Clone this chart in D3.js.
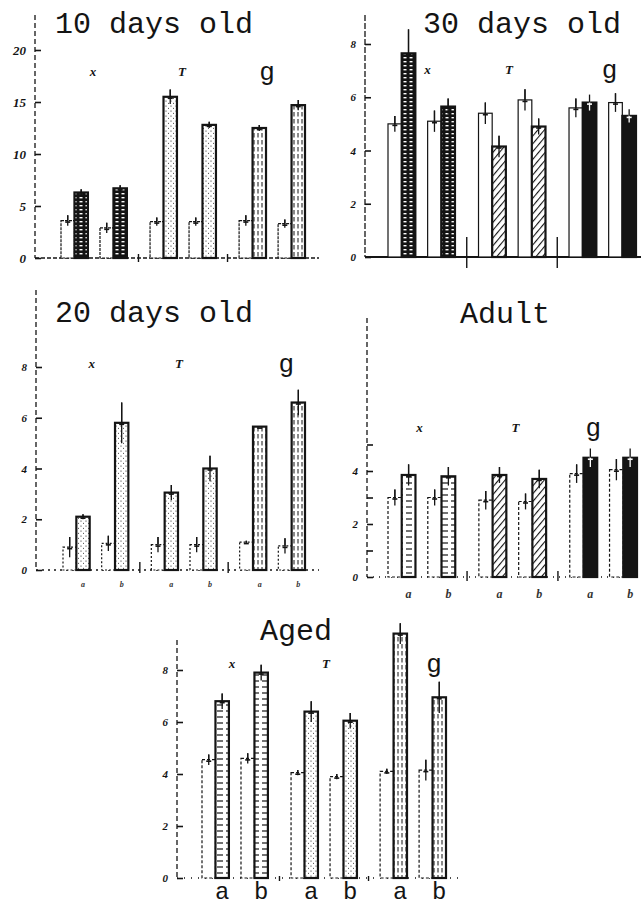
<!DOCTYPE html>
<html><head><meta charset="utf-8">
<script src="https://cdn.jsdelivr.net/npm/d3@7"></script>
<style>body{margin:0;background:#fff}svg{display:block}</style>
</head><body><svg id="c" width="641" height="911"></svg>
<script>
// ---------- data ----------
const groups = ['x', 'T', 'g'];
const subs = ['a', 'b'];
const titles = ['10 days old', '30 days old', '20 days old', 'Adult', 'Aged'];

const ctrl10 = [3.6, 2.9, 3.5, 3.5, 3.6, 3.3];
const trt10 = [6.3, 6.7, 15.5, 12.8, 12.5, 14.7];
const ctrlErr10 = [0.5, 0.5, 0.4, 0.4, 0.5, 0.4];
const trtErr10 = [0.3, 0.3, 0.7, 0.3, 0.3, 0.5];
const ticks10 = [0, 5, 10, 15, 20];

const ctrl30 = [5.0, 5.1, 5.4, 5.9, 5.6, 5.8];
const trt30 = [7.65, 5.65, 4.15, 4.9, 5.8, 5.3];
const ctrlErr30 = [0.3, 0.4, 0.4, 0.4, 0.35, 0.35];
const trtErr30 = [0.9, 0.3, 0.4, 0.3, 0.3, 0.25];
const ticks30 = [0, 2, 4, 6, 8];

const ctrl20 = [0.9, 1.05, 1.0, 1.0, 1.1, 0.95];
const trt20 = [2.1, 5.8, 3.05, 4.0, 5.65, 6.6];
const ctrlErr20 = [0.4, 0.3, 0.3, 0.3, 0.05, 0.3];
const trtErr20 = [0.1, 0.8, 0.3, 0.5, 0.0, 0.5];
const ticks20 = [0, 2, 4, 6, 8];

const ctrlAdult = [3.0, 3.0, 2.9, 2.85, 3.9, 4.05];
const trtAdult = [3.85, 3.8, 3.85, 3.7, 4.5, 4.5];
const ctrlErrAdult = [0.3, 0.3, 0.35, 0.3, 0.35, 0.4];
const trtErrAdult = [0.4, 0.35, 0.3, 0.35, 0.35, 0.35];
const ticksAdult = [0, 1, 2, 3, 4, 5];

const ctrlAged = [4.55, 4.6, 4.05, 3.9, 4.1, 4.15];
const trtAged = [6.8, 7.9, 6.4, 6.05, 9.4, 6.95];
const ctrlErrAged = [0.2, 0.2, 0.1, 0.1, 0.1, 0.4];
const trtErrAged = [0.3, 0.3, 0.4, 0.3, 0.4, 0.6];
const ticksAged = [0, 2, 4, 6, 8];

// ---------- drawing ----------
const svg = d3.select('#c');
const INK = '#141414';
const MONO = '"Liberation Mono", "DejaVu Sans Mono", monospace';
const SERIF = '"Liberation Serif", "DejaVu Serif", serif';

const defs = svg.append('defs');
function pat(id, w, h, build, rot) {
  const p = defs.append('pattern').attr('id', id).attr('patternUnits', 'userSpaceOnUse')
    .attr('width', w).attr('height', h);
  if (rot) p.attr('patternTransform', `rotate(${rot})`);
  build(p);
}
pat('ladder', 6, 4, p => {
  p.append('rect').attr('width', 6).attr('height', 4).attr('fill', INK);
  p.append('rect').attr('x', 1.5).attr('y', 1).attr('width', 3).attr('height', 1.4).attr('fill', '#fff');
});
pat('dots', 5, 5, p => {
  p.append('rect').attr('width', 5).attr('height', 5).attr('fill', '#fff');
  p.append('circle').attr('cx', 1).attr('cy', 1).attr('r', 0.6).attr('fill', INK);
  p.append('circle').attr('cx', 3.5).attr('cy', 3.3).attr('r', 0.5).attr('fill', INK);
});
pat('vlines', 4, 7, p => {
  p.append('rect').attr('width', 4).attr('height', 7).attr('fill', '#fff');
  p.append('line').attr('x1', 2).attr('x2', 2).attr('y1', 0).attr('y2', 4.5).attr('stroke', INK).attr('stroke-width', 1);
});
pat('diag', 5, 5, p => {
  p.append('rect').attr('width', 5).attr('height', 5).attr('fill', '#fff');
  p.append('line').attr('x1', 0).attr('x2', 0).attr('y1', 0).attr('y2', 5).attr('stroke', INK).attr('stroke-width', 2.2);
}, 40);
pat('hlines', 9, 6, p => {
  p.append('rect').attr('width', 9).attr('height', 6).attr('fill', '#fff');
  p.append('line').attr('x1', 1).attr('x2', 7).attr('y1', 3).attr('y2', 3).attr('stroke', INK).attr('stroke-width', 1.2);
});

const panels = [
  { title: titles[0], ctrl: ctrl10, trt: trt10, ce: ctrlErr10, te: trtErr10, ticks: ticks10, max: 20,
    xr: [61, 305], yr: [258, 50], ax: 35, axTop: 15, tx: 55, ty: 33, gy: 80, gdx: [-1, -1, -5],
    fills: ['ladder', 'dots', 'vlines'], ctrlDash: '3,1', baseDash: '4,2', sepLen: [4, 4], labelY: null },
  { title: titles[1], ctrl: ctrl30, trt: trt30, ce: ctrlErr30, te: trtErr30, ticks: ticks30, max: 8,
    xr: [388, 636], yr: [257, 44], ax: 365, axTop: 15, tx: 423, ty: 33, gy: 78, gdx: [6, -3, 7],
    fills: ['ladder', 'diag', 'solid'], ctrlDash: null, baseDash: null, sepLen: [20, 11], labelY: null },
  { title: titles[2], ctrl: ctrl20, trt: trt20, ce: ctrlErr20, te: trtErr20, ticks: ticks20, max: 8,
    xr: [63, 305], yr: [570, 367], ax: 36, axTop: 290, tx: 55, ty: 322, gy: 372, gdx: [-4, -5, 14],
    fills: ['dots', 'dots', 'vlines'], ctrlDash: '2,2', baseDash: '2,4', sepLen: [8, 3], labelY: 587, labelSize: 8 },
  { title: titles[3], ctrl: ctrlAdult, trt: trtAdult, ce: ctrlErrAdult, te: trtErrAdult, ticks: ticksAdult, max: 10,
    xr: [388, 637], yr: [577, 312], ax: 367, axTop: 318, tx: 460, ty: 323, gy: 436, gdx: [-2, 3, -10],
    fills: ['hlines', 'diag', 'solid'], ctrlDash: '3,2', baseDash: '1,5', sepLen: [6, 4], labelY: 598, labelSize: 12,
    tickLabels: d => (d % 2 === 0 ? d : '') },
  { title: titles[4], ctrl: ctrlAged, trt: trtAged, ce: ctrlErrAged, te: trtErrAged, ticks: ticksAged, max: 8,
    xr: [202, 446], yr: [878, 670], ax: 177, axTop: 640, tx: 260, ty: 640, gy: 672, gdx: [-3, 2, 21],
    fills: ['hlines', 'dots', 'vlines'], ctrlDash: '3,2', baseDash: '1,6', sepLen: [2, 3], labelY: 899, labelSize: 24, labelMono: true }
];

panels.forEach((P, pi) => {
  const g = svg.append('g');
  const y = d3.scaleLinear().domain([0, P.max]).range(P.yr);
  const xG = d3.scaleBand().domain(groups).range(P.xr).paddingInner(0.26).paddingOuter(0);
  const xS = d3.scaleBand().domain(subs).range([0, xG.bandwidth()]).paddingInner(0.31).paddingOuter(0);
  const xB = d3.scaleBand().domain(['c', 't']).range([0, xS.bandwidth()]).padding(0);
  const base = y(0);

  // title
  g.append('text').attr('x', P.tx).attr('y', P.ty).text(P.title)
    .attr('font-family', MONO).attr('font-size', 30).attr('fill', INK);

  // axis line
  g.append('line').attr('x1', P.ax).attr('x2', P.ax).attr('y1', P.axTop).attr('y2', base)
    .attr('stroke', INK).attr('stroke-width', 1.3).attr('stroke-dasharray', pi === 1 ? '6,2' : '5,3');
  // baseline
  g.append('line').attr('x1', P.ax).attr('x2', P.xr[1] + 14).attr('y1', base).attr('y2', base)
    .attr('stroke', INK).attr('stroke-width', pi === 1 ? 2 : 1.3)
    .attr('stroke-dasharray', P.baseDash);

  // ticks
  const axis = d3.axisLeft(y).tickValues(P.ticks).tickSize(-6).tickPadding(9)
    .tickFormat(P.tickLabels || (d => d));
  const ag = g.append('g').attr('transform', `translate(${P.ax},0)`).call(axis);
  ag.select('.domain').remove();
  ag.selectAll('.tick line').attr('stroke', INK).attr('stroke-width', 1.6);
  ag.selectAll('.tick text').attr('font-family', SERIF).attr('font-style', 'italic')
    .attr('font-weight', 'bold').attr('font-size', pi === 0 ? 13 : 11).attr('fill', INK);

  // group separators
  for (let i = 0; i < groups.length - 1; i++) {
    const xm = (xG(groups[i]) + xG.bandwidth() + xG(groups[i + 1])) / 2;
    g.append('line').attr('x1', xm).attr('x2', xm).attr('y1', base - P.sepLen[0]).attr('y2', base + P.sepLen[1])
      .attr('stroke', INK).attr('stroke-width', 1.4);
  }

  // bars
  const rows = [];
  groups.forEach((gr, gi) => subs.forEach((s, si) => {
    const k = gi * 2 + si;
    rows.push({ gr, s, k, c: P.ctrl[k], t: P.trt[k], ce: P.ce[k], te: P.te[k] });
  }));
  const bx = (d, w) => xG(d.gr) + xS(d.s) + xB(w);
  const bw = xB.bandwidth();

  // control (open) bars
  g.selectAll('.cbar').data(rows).join('rect').attr('class', 'cbar')
    .attr('x', d => bx(d, 'c')).attr('y', d => y(d.c)).attr('width', bw).attr('height', d => base - y(d.c))
    .attr('fill', '#fff').attr('stroke', INK).attr('stroke-width', 1.2)
    .attr('stroke-dasharray', P.ctrlDash);
  // treatment (patterned) bars
  g.selectAll('.tbar').data(rows).join('rect').attr('class', 'tbar')
    .attr('x', d => bx(d, 't')).attr('y', d => y(d.t)).attr('width', bw).attr('height', d => base - y(d.t))
    .attr('fill', d => {
      const f = P.fills[groups.indexOf(d.gr)];
      return f === 'solid' ? INK : `url(#${f})`;
    })
    .attr('stroke', INK).attr('stroke-width', 2.2);

  // error bars
  const err = (key, vk, ek) => {
    const col = d => (key === 't' && P.fills[groups.indexOf(d.gr)] === 'solid') ? '#fff' : INK;
    g.selectAll('.e' + key).data(rows).join('line').attr('class', 'e' + key)
      .attr('x1', d => bx(d, key) + bw / 2).attr('x2', d => bx(d, key) + bw / 2)
      .attr('y1', d => y(d[vk] + d[ek])).attr('y2', d => y(d[vk] - d[ek]))
      .attr('stroke', col).attr('stroke-width', 1.3);
    g.selectAll('.et' + key).data(rows).join('line').attr('class', 'et' + key)
      .attr('x1', d => bx(d, key) + bw / 2 - 2.5).attr('x2', d => bx(d, key) + bw / 2 + 2.5)
      .attr('y1', d => y(d[vk]) + 1.5).attr('y2', d => y(d[vk]) + 1.5)
      .attr('stroke', col).attr('stroke-width', 1.6);
    g.selectAll('.eu' + key).data(rows).join('line').attr('class', 'eu' + key)
      .attr('x1', d => bx(d, key) + bw / 2).attr('x2', d => bx(d, key) + bw / 2)
      .attr('y1', d => y(d[vk] + d[ek])).attr('y2', d => y(d[vk]))
      .attr('stroke', INK).attr('stroke-width', 1.3);
  };
  err('c', 'c', 'ce');
  err('t', 't', 'te');

  // group labels
  groups.forEach((gr, gi) => {
    const cx = xG(gr) + xG.bandwidth() / 2 + P.gdx[gi];
    const isG = gr === 'g';
    g.append('text').attr('x', cx).attr('y', isG ? P.gy : P.gy - 4).attr('text-anchor', 'middle').text(gr)
      .attr('font-family', isG ? MONO : SERIF).attr('font-size', isG ? 26 : 13)
      .attr('font-style', isG ? 'normal' : 'italic').attr('font-weight', isG ? 'normal' : 'bold')
      .attr('fill', INK);
  });

  // a / b labels
  if (P.labelY) {
    g.selectAll('.sl').data(rows).join('text').attr('class', 'sl')
      .attr('x', d => bx(d, 't') + bw / 2).attr('y', P.labelY).attr('text-anchor', 'middle').text(d => d.s)
      .attr('font-family', P.labelMono ? MONO : SERIF).attr('font-size', P.labelSize)
      .attr('font-style', P.labelMono ? 'normal' : 'italic').attr('font-weight', P.labelMono ? 'normal' : 'bold')
      .attr('fill', P.labelMono ? INK : '#333');
  }
});
</script></body></html>
